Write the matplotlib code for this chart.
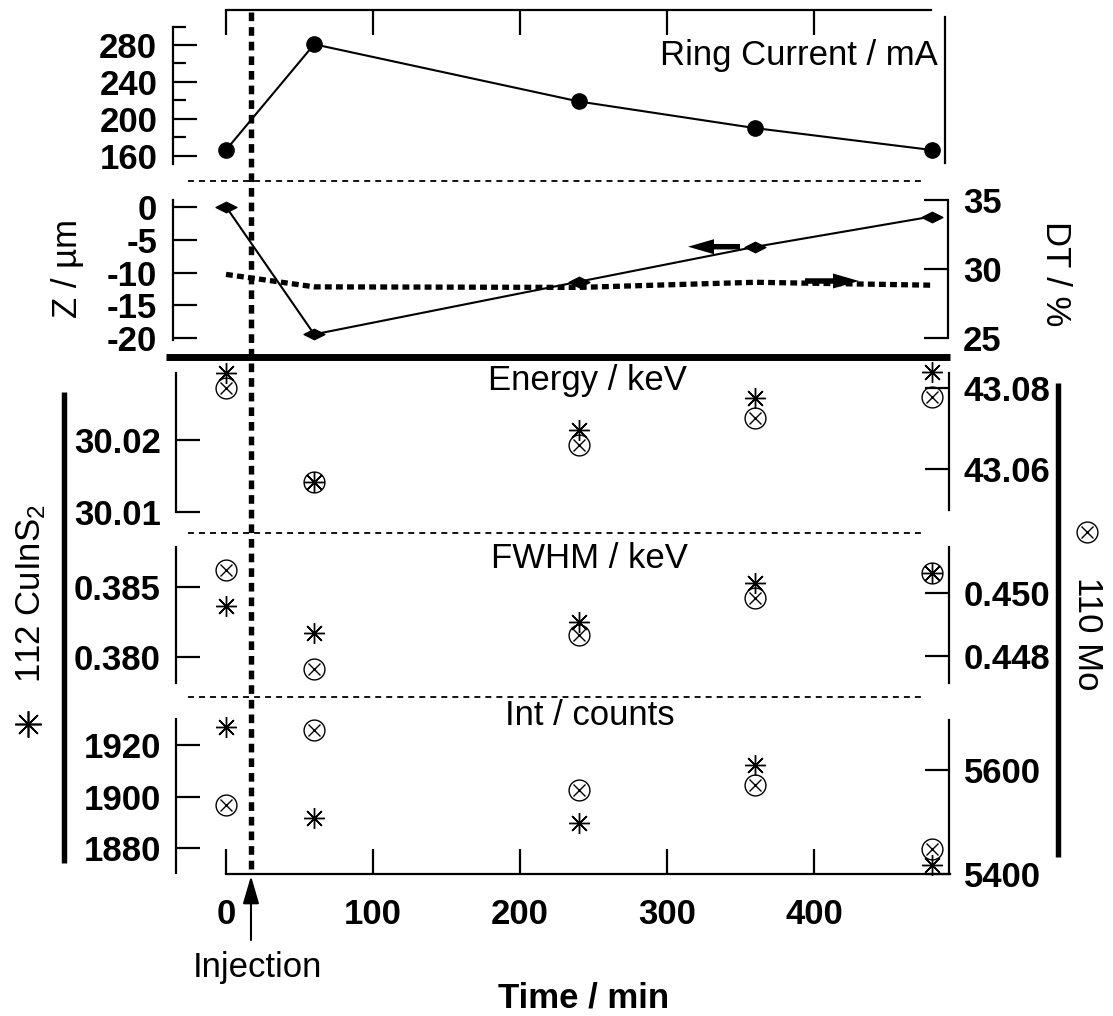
import matplotlib
matplotlib.use("Agg")
import matplotlib.pyplot as plt
from matplotlib.path import Path
from matplotlib.patches import FancyArrow
from matplotlib.ticker import FixedLocator, NullFormatter

plt.rcParams["font.family"] = ["Liberation Sans", "DejaVu Sans"]
plt.rcParams["font.weight"] = "bold"          # tick numbers are bold
plt.rcParams["mathtext.default"] = "regular"

# ---------------------------------------------------------------- data
time_min = [0, 60, 240, 360, 480]
injection_time = 17

ring_current = [166.2, 280.8, 218.8, 189.9, 166.2]
z_position = [0.0, -19.4, -11.4, -6.1, -1.5]
dead_time = [29.62, 28.72, 28.68, 29.05, 28.84]

energy_cuins2 = [30.0293, 30.0142, 30.0214, 30.0259, 30.0295]
energy_mo = [43.0800, 43.0569, 43.0660, 43.0726, 43.0779]
fwhm_cuins2 = [0.38365, 0.38173, 0.38252, 0.38529, 0.38601]
fwhm_mo = [0.45072, 0.44758, 0.44866, 0.44982, 0.45061]
int_cuins2 = [1927.1, 1891.6, 1889.7, 1912.3, 1873.5]
int_mo = [5532.7, 5676.9, 5561.5, 5571.2, 5447.5]

time_ticks = [0, 100, 200, 300, 400]
ring_ticks = [160, 200, 240, 280]
ring_minor = [180, 220, 260, 300]
z_ticks = [0, -5, -10, -15, -20]
dt_ticks = [25, 30, 35]
energy_l_ticks = [30.01, 30.02]
energy_r_ticks = [43.06, 43.08]
fwhm_l_ticks = [0.380, 0.385]
fwhm_r_ticks = [0.448, 0.450]
int_l_ticks = [1880, 1900, 1920]
int_r_ticks = [5400, 5600]

# ---------------------------------------------------------------- layout (pixels)
W, H = 1113, 1016
X0, X1 = 160, 960            # horizontal extent of every panel
T0_PX, PX_PER_MIN = 226, 1.47
XLIM = ((X0 - T0_PX) / PX_PER_MIN, (X1 - T0_PX) / PX_PER_MIN)

LW_AX = 1.6
FS = 25
TICK_LEN = 17.5
PAD_Y = 11

fig = plt.figure(figsize=(W / 100, H / 100), dpi=100)


def t_at(px):
    return (px - T0_PX) / PX_PER_MIN


def xfrac(px):
    return (px - X0) / (X1 - X0)


def val_at(cal, px):
    (pa, va), (pb, vb) = cal
    return va + (px - pa) * (vb - va) / (pb - pa)


def new_panel(y_top, y_bot, cal):
    ax = fig.add_axes([X0 / W, 1 - y_bot / H, (X1 - X0) / W, (y_bot - y_top) / H])
    ax.set_xlim(*XLIM)
    ax.set_ylim(val_at(cal, y_bot), val_at(cal, y_top))
    ax.patch.set_visible(False)
    for s in ax.spines.values():
        s.set_visible(False)
        s.set_linewidth(LW_AX)
    ax.tick_params(axis="x", bottom=False, top=False, labelbottom=False, labeltop=False)
    return ax


def twin_panel(ax, y_top, y_bot, cal):
    axr = ax.twinx()
    axr.set_ylim(val_at(cal, y_bot), val_at(cal, y_top))
    for s in axr.spines.values():
        s.set_visible(False)
        s.set_linewidth(LW_AX)
    return axr


def y_axis(ax, side, x_px, cal, top_px, bot_px, ticks, fmt):
    sp = ax.spines[side]
    sp.set_visible(True)
    sp.set_position(("axes", xfrac(x_px)))
    sp.set_bounds(val_at(cal, bot_px), val_at(cal, top_px))
    ax.yaxis.set_ticks_position(side)
    ax.set_yticks(ticks, [fmt.format(v) for v in ticks])
    ax.tick_params(axis="y", direction="in", length=TICK_LEN, width=LW_AX,
                   pad=PAD_Y, labelsize=FS)


asterisk = (8, 2, 0)
diamond = Path([(-1, 0), (0, 0.5), (1, 0), (0, -0.5), (-1, 0)],
               [Path.MOVETO, Path.LINETO, Path.LINETO, Path.LINETO, Path.CLOSEPOLY])


def plot_star(ax, values):
    ax.plot(time_min, values, ls="none", marker=asterisk, ms=15, mec="black",
            mew=1.0, clip_on=False, zorder=5)


def plot_otimes(ax, values):
    ax.plot(time_min, values, ls="none", marker="o", ms=15, mfc="none",
            mec="black", mew=1.0, clip_on=False, zorder=5)
    ax.plot(time_min, values, ls="none", marker="x", ms=8, mec="black",
            mew=1.0, clip_on=False, zorder=5)


# ---------------------------------------------------------------- ring current
RING_CAL = ((155.7, 160), (45.0, 280))
ax_ring = new_panel(10, 175, RING_CAL)
y_axis(ax_ring, "left", 172.5, RING_CAL, 26.7, 164.3, ring_ticks, "{:d}")
ax_ring.yaxis.set_minor_locator(FixedLocator(ring_minor))
ax_ring.yaxis.set_minor_formatter(NullFormatter())
ax_ring.tick_params(axis="y", which="minor", direction="in", length=9, width=LW_AX)
sp = ax_ring.spines["right"]
sp.set_visible(True)
sp.set_position(("axes", xfrac(945)))
sp.set_bounds(val_at(RING_CAL, 163.3), val_at(RING_CAL, 16.7))
sp = ax_ring.spines["top"]
sp.set_visible(True)
sp.set_bounds(0, t_at(931))
ax_ring.set_xticks(time_ticks)
ax_ring.tick_params(axis="x", top=True, bottom=False, labeltop=False,
                    labelbottom=False, direction="in", length=18, width=LW_AX)
ax_ring.plot(time_min, ring_current, color="black", lw=1.5, marker="o", ms=11,
             clip_on=False, zorder=5)

# ---------------------------------------------------------------- Z and dead time
Z_CAL = ((206.7, 0), (338.3, -20))
DT_CAL = ((200.0, 35), (338.3, 25))
ax_z = new_panel(190, 352, Z_CAL)
y_axis(ax_z, "left", 172.5, Z_CAL, 200, 340, z_ticks, "{:d}")
ax_dt = twin_panel(ax_z, 190, 352, DT_CAL)
y_axis(ax_dt, "right", 947.8, DT_CAL, 200, 338.3, dt_ticks, "{:d}")
ax_z.plot(time_min, z_position, color="black", lw=1.5, marker=diamond, ms=15,
          clip_on=False, zorder=5)
ax_dt.plot(time_min, dead_time, color="black", lw=3.8, ls=(0, (1.3, 0.8)),
           dash_capstyle="butt", clip_on=False, zorder=4)

# ---------------------------------------------------------------- energy
E_L_CAL = ((440.0, 30.02), (511.7, 30.01))
E_R_CAL = ((388.3, 43.08), (469.3, 43.06))
ax_e = new_panel(362, 525, E_L_CAL)
y_axis(ax_e, "left", 176, E_L_CAL, 373.3, 511.7, energy_l_ticks, "{:.2f}")
ax_er = twin_panel(ax_e, 362, 525, E_R_CAL)
y_axis(ax_er, "right", 948.6, E_R_CAL, 373.3, 510, energy_r_ticks, "{:.2f}")
plot_star(ax_e, energy_cuins2)
plot_otimes(ax_er, energy_mo)

# ---------------------------------------------------------------- FWHM
F_L_CAL = ((587.3, 0.385), (656.7, 0.380))
F_R_CAL = ((592.7, 0.450), (656.0, 0.448))
ax_f = new_panel(540, 690, F_L_CAL)
y_axis(ax_f, "left", 176, F_L_CAL, 546.7, 683.3, fwhm_l_ticks, "{:.3f}")
ax_fr = twin_panel(ax_f, 540, 690, F_R_CAL)
y_axis(ax_fr, "right", 948.6, F_R_CAL, 546.7, 683, fwhm_r_ticks, "{:.3f}")
plot_star(ax_f, fwhm_cuins2)
plot_otimes(ax_fr, fwhm_mo)

# ---------------------------------------------------------------- intensity
I_L_CAL = ((745.0, 1920), (848.3, 1880))
I_R_CAL = ((770.0, 5600), (874.0, 5400))
ax_i = new_panel(705, 874, I_L_CAL)
y_axis(ax_i, "left", 176, I_L_CAL, 719.3, 873.3, int_l_ticks, "{:d}")
ax_ir = twin_panel(ax_i, 705, 874, I_R_CAL)
y_axis(ax_ir, "right", 948.6, I_R_CAL, 720, 874, int_r_ticks, "{:d}")
sp = ax_i.spines["bottom"]
sp.set_visible(True)
sp.set_bounds(0, t_at(949.6))
ax_i.set_xticks(time_ticks, [str(v) for v in time_ticks])
ax_i.tick_params(axis="x", bottom=True, labelbottom=True, direction="in",
                 length=18, width=LW_AX, pad=17, labelsize=FS)
plot_star(ax_i, int_cuins2)
plot_otimes(ax_ir, int_mo)

# ---------------------------------------------------------------- injection marker
frame = fig.add_axes([X0 / W, 0, (X1 - X0) / W, 1])
frame.set_xlim(*XLIM)
frame.set_ylim(H, 0)
frame.axis("off")
frame.plot([injection_time, injection_time], [12, 873], color="black", lw=3.9,
           ls=(0, (1.6, 1.1)), dash_capstyle="butt")
frame.annotate("", xy=(injection_time, 876), xytext=(injection_time, 940),
               arrowprops=dict(arrowstyle="-|>,head_length=17,head_width=5",
                               mutation_scale=1, lw=1.5, color="black",
                               shrinkA=0, shrinkB=0))

# ---------------------------------------------------------------- annotations
ov = fig.add_axes([0, 0, 1, 1])
ov.set_xlim(0, W)
ov.set_ylim(H, 0)
ov.axis("off")

for y in (181, 532.7, 696.7):
    ov.plot([187.5, 923], [y, y], color="black", lw=1.3, ls=(0, (3.3, 2.8)),
            dash_capstyle="butt")
ov.plot([166, 949.6], [356.7, 356.7], color="black", lw=5, solid_capstyle="butt")
ov.plot([64.3, 64.3], [391.7, 863.3], color="black", lw=3.9, solid_capstyle="butt")
ov.plot([1058, 1058], [383.3, 856.7], color="black", lw=3.9, solid_capstyle="butt")

ov.add_patch(FancyArrow(740, 246.7, -52, 0, width=5.5, head_width=15,
                        head_length=26, length_includes_head=True,
                        color="black", lw=0))
ov.add_patch(FancyArrow(805, 281, 54, 0, width=5.5, head_width=15,
                        head_length=26, length_includes_head=True,
                        color="black", lw=0))

normal = dict(fontsize=FS, fontweight="normal")
ov.text(937.8, 65, "Ring Current / mA", ha="right", va="baseline", **normal)
ov.text(587, 390, "Energy / keV", ha="center", va="baseline", **normal)
ov.text(589, 568.3, "FWHM / keV", ha="center", va="baseline", **normal)
ov.text(589.6, 725, "Int / counts", ha="center", va="baseline", **normal)
ov.text(257, 976.7, "Injection", ha="center", va="baseline", **normal)
ov.text(584, 1008, "Time / min", fontsize=FS, fontweight="bold", ha="center",
        va="baseline")
ov.text(68, 269, "Z / µm", rotation=90, ha="center", va="center", **normal)
ov.text(1055, 273.3, "DT / %", rotation=-90, ha="center", va="center", **normal)
ov.text(31, 594, "112 CuInS$_2$", rotation=90, ha="center", va="center", **normal)
ov.text(1088, 577, "110 Mo", rotation=-90, ha="center", va="top", **normal)

ov.plot([28.3], [724.3], marker=asterisk, ms=19, mec="black", mew=1.2)
ov.plot([1087], [531.7], marker="o", ms=15, mfc="none", mec="black", mew=1.0)
ov.plot([1087], [531.7], marker="x", ms=8, mec="black", mew=1.0)

fig.savefig("out.png", dpi=100)
